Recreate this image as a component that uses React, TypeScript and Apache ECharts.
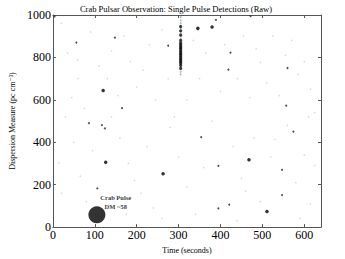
import React, { useEffect, useRef } from "react";
import * as echarts from "echarts";

const titleText = "Crab Pulsar Observation: Single Pulse Detections (Raw)";
const xTicks = [0, 100, 200, 300, 400, 500, 600];
const yTicks = [0, 200, 400, 600, 800, 1000];

// Crab pulse (big detection)
const crabPulse: [number, number][] = [[105, 58]];
const crabLabel: [number, number][] = [[150, 118]];

// medium strength detections
const mediumDots: [number, number][] = [
  [120, 644], [126, 306], [263, 252], [346, 937], [380, 943], [468, 318], [511, 74],
];

// weak but visible detections
const smallDots: [number, number][] = [
  [4, 993], [56, 870], [148, 893], [165, 561], [275, 855], [389, 977], [472, 995],
  [424, 823], [419, 742], [560, 750], [557, 573], [106, 183], [395, 289], [547, 270],
  [354, 424], [574, 450], [395, 88], [421, 106], [547, 151], [124, 465], [86, 490],
  [117, 481],
];

// faint detections (background noise)
const faintDots: [number, number][] = [
  [14, 303], [59, 788], [496, 777], [530, 413], [20, 960], [35, 820], [45, 610],
  [60, 700], [75, 560], [90, 920], [110, 760], [130, 700], [140, 830], [155, 620],
  [170, 900], [185, 780], [200, 660], [215, 740], [230, 860], [245, 600], [260, 930],
  [275, 700], [290, 520], [320, 600], [335, 880], [350, 700], [365, 820], [400, 640],
  [410, 860], [440, 700], [455, 900], [470, 610], [485, 840], [510, 680], [525, 900],
  [540, 620], [555, 810], [570, 880], [585, 720], [600, 780], [615, 650], [625, 540],
  [30, 520], [50, 400], [65, 240], [80, 120], [95, 360], [140, 520], [160, 420],
  [180, 300], [195, 220], [210, 160], [225, 380], [240, 90], [280, 470], [300, 330],
  [320, 190], [340, 60], [360, 280], [380, 500], [430, 380], [450, 230], [460, 170],
  [480, 420], [495, 120], [520, 330], [560, 480], [580, 210], [600, 340], [615, 110],
  [625, 290], [610, 520], [175, 60], [260, 40], [440, 30], [590, 40], [20, 160],
];

// column of detections at t ~ 305 s (pulsar)
const columnFaint: [number, number][] = [
  [305, 990], [305, 975], [305, 962], [305, 950], [305, 938], [305, 925], [305, 912],
  [305, 900], [305, 888], [305, 876], [305, 864], [305, 852], [305, 840], [305, 828],
  [305, 816], [305, 804], [305, 792], [305, 780], [305, 768], [305, 756], [305, 744],
  [305, 732], [305, 720],
];
const columnStrong: [number, number][] = [
  [305, 945], [305, 925], [305, 905], [305, 880], [305, 868], [305, 860], [305, 852],
  [305, 845], [305, 838], [305, 830], [305, 822], [305, 815], [305, 808], [305, 800],
  [305, 793], [305, 786], [305, 779], [305, 772], [305, 762], [305, 748],
];

export default function App() {
  const ref = useRef<HTMLDivElement>(null);
  useEffect(() => {
    if (!ref.current) return;
    const chart = echarts.init(ref.current, null, { renderer: "svg" });
    const font = "'Liberation Serif', 'DejaVu Serif', serif";
    const axisLine = { show: true, onZero: false, lineStyle: { color: "#555", width: 1 } };
    const tick = { show: true, inside: true, length: 3, lineStyle: { color: "#555" } };
    chart.setOption({
      animation: false,
      backgroundColor: "#fff",
      title: {
        text: titleText,
        left: 176,
        textAlign: "center",
        top: 4,
        padding: 0,
        textStyle: { fontFamily: font, fontSize: 8.5, fontWeight: "normal", color: "#000" },
      },
      grid: { left: 41, right: 24, top: 15, bottom: 27 },
      xAxis: [
        {
          type: "value",
          min: 0,
          max: 640,
          interval: 100,
          name: "Time (seconds)",
          nameLocation: "middle",
          nameGap: 17,
          nameTextStyle: { fontFamily: font, fontSize: 8, color: "#000" },
          axisLine,
          axisTick: tick,
          axisLabel: {
            fontFamily: font,
            fontSize: 12,
            color: "#000",
            margin: 2,
            showMaxLabel: false,
            formatter: (v: number) => (xTicks.includes(v) ? String(v) : ""),
          },
          splitLine: { show: false },
        },
        {
          type: "value",
          position: "top",
          min: 0,
          max: 640,
          interval: 100,
          axisLine,
          axisTick: tick,
          axisLabel: { show: false },
          splitLine: { show: false },
        },
      ],
      yAxis: [
        {
          type: "value",
          min: 0,
          max: 1000,
          interval: 200,
          name: "Dispersion Measure (pc cm\u207B\u00B3)",
          nameLocation: "middle",
          nameGap: 21,
          nameTextStyle: { fontFamily: font, fontSize: 8, color: "#000" },
          axisLine,
          axisTick: tick,
          axisLabel: {
            fontFamily: font,
            fontSize: 12,
            color: "#000",
            margin: 2,
            formatter: (v: number) => (yTicks.includes(v) ? String(v) : ""),
          },
          splitLine: { show: false },
        },
        {
          type: "value",
          position: "right",
          min: 0,
          max: 1000,
          interval: 200,
          axisLine,
          axisTick: tick,
          axisLabel: { show: false },
          splitLine: { show: false },
        },
      ],
      series: [
        { type: "scatter", data: faintDots, symbolSize: 1.5, itemStyle: { color: "#c8cccc" } },
        { type: "scatter", data: columnFaint, symbolSize: 2, itemStyle: { color: "#9fb0b0" } },
        { type: "scatter", data: columnStrong, symbolSize: 3.2, itemStyle: { color: "#111" } },
        { type: "scatter", data: smallDots, symbolSize: 2, itemStyle: { color: "#222" } },
        { type: "scatter", data: mediumDots, symbolSize: 3.5, itemStyle: { color: "#000" } },
        { type: "scatter", data: crabPulse, symbolSize: 17, itemStyle: { color: "#000" } },
        {
          type: "scatter",
          data: crabLabel,
          symbol: "circle",
          symbolSize: 0,
          itemStyle: { color: "rgba(0,0,0,0)" },
          label: {
            show: true,
            position: "inside",
            formatter: "Crab Pulse\nDM ~58",
            fontFamily: font,
            fontSize: 6.5,
            lineHeight: 9,
            fontWeight: "bold",
            color: "#000",
          },
        },
      ],
    });
    return () => chart.dispose();
  }, []);
  return (
    <div
      ref={ref}
      style={{ position: "fixed", left: 0, top: 0, width: 345, height: 259, background: "#fff" }}
    />
  );
}
